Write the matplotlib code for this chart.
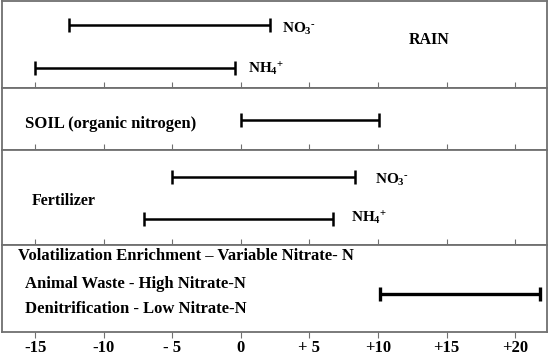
import matplotlib
matplotlib.use('Agg')
import matplotlib.pyplot as plt

plt.rcParams['font.family'] = ['Liberation Serif', 'DejaVu Serif']
plt.rcParams['font.weight'] = 'bold'
plt.rcParams['mathtext.fontset'] = 'custom'
plt.rcParams['mathtext.rm'] = 'Liberation Serif:bold'
plt.rcParams['mathtext.it'] = 'Liberation Serif:bold'
plt.rcParams['mathtext.bf'] = 'Liberation Serif:bold'

# d15N ranges (per mil)
rain_low = [-12.5, -15.0]
rain_high = [2.1, -0.4]
rain_ions = [r'NO$_3$$^{\text{-}}$', r'NH$_4$$^{+}$']
soil_low = [0.0]
soil_high = [10.05]
fert_low = [-5.0, -7.05]
fert_high = [8.35, 6.7]
fert_ions = [r'NO$_3$$^{\text{-}}$', r'NH$_4$$^{+}$']
waste_low = [10.15]
waste_high = [21.8]

tick_vals = [-15, -10, -5, 0, 5, 10, 15, 20]
tick_labels = ['-15', '-10', '- 5', '0', '+ 5', '+10', '+15', '+20']

frame = '#707070'
W, H = 550, 356
left, right = 1.5 / W, 546.7 / W
# panel edges in pixels from the top
edges = [1, 88, 150, 244.5, 331.5]

fig = plt.figure(figsize=(5.5, 3.56), dpi=100)
axes = []
for i in range(4):
    bottom = (H - edges[i + 1]) / H
    height = (edges[i + 1] - edges[i]) / H
    ax = fig.add_axes([left, bottom, right - left, height])
    ax.set_xlim(-17.45, 22.3)
    ax.set_ylim(0, 1)
    ax.set_yticks([])
    ax.set_xticks(tick_vals)
    for s in ax.spines.values():
        s.set_color(frame)
        s.set_linewidth(1.3)
    if i < 3:
        ax.tick_params(axis='x', direction='in', length=4, color=frame, labelbottom=False)
    else:
        ax.tick_params(axis='x', direction='out', length=4, color=frame, pad=2)
        ax.set_xticklabels(tick_labels, fontsize=12, fontweight='bold')
    axes.append(ax)


def bar(ax, lo, hi, y, lw=1.8):
    ax.plot([lo, hi], [y, y], color='black', lw=lw, marker='|', ms=10, mew=lw,
            solid_capstyle='butt')


# RAIN
ax = axes[0]
rain_y = [0.724, 0.226]
rain_lab = [(3.0, 0.68), (0.55, 0.215)]
for lo, hi, y, name, (lx, ly) in zip(rain_low, rain_high, rain_y, rain_ions, rain_lab):
    bar(ax, lo, hi, y)
    ax.text(lx, ly, name, fontsize=11, va='center', ha='left')
ax.text(13.7, 0.55, 'RAIN', fontsize=11.5, va='center', ha='center')

# SOIL
ax = axes[1]
bar(ax, soil_low[0], soil_high[0], 0.484)
ax.text(-15.75, 0.42, 'SOIL (organic nitrogen)', fontsize=12, va='center', ha='left')

# Fertilizer
ax = axes[2]
fert_y = [0.714, 0.273]
fert_lab = [(9.75, 0.68), (8.05, 0.28)]
for lo, hi, y, name, (lx, ly) in zip(fert_low, fert_high, fert_y, fert_ions, fert_lab):
    bar(ax, lo, hi, y)
    ax.text(lx, ly, name, fontsize=11, va='center', ha='left')
ax.text(-15.25, 0.46, 'Fertilizer', fontsize=11.5, va='center', ha='left')

# Animal waste / denitrification
ax = axes[3]
bar(ax, waste_low[0], waste_high[0], 0.428, lw=2.4)
ax.text(-16.25, 0.868, 'Volatilization Enrichment \u2013 Variable Nitrate- N',
        fontsize=12, va='center', ha='left')
ax.text(-15.75, 0.543, 'Animal Waste - High Nitrate-N', fontsize=12, va='center', ha='left')
ax.text(-15.75, 0.255, 'Denitrification - Low Nitrate-N', fontsize=12, va='center', ha='left')

fig.savefig('out.png', dpi=100)
